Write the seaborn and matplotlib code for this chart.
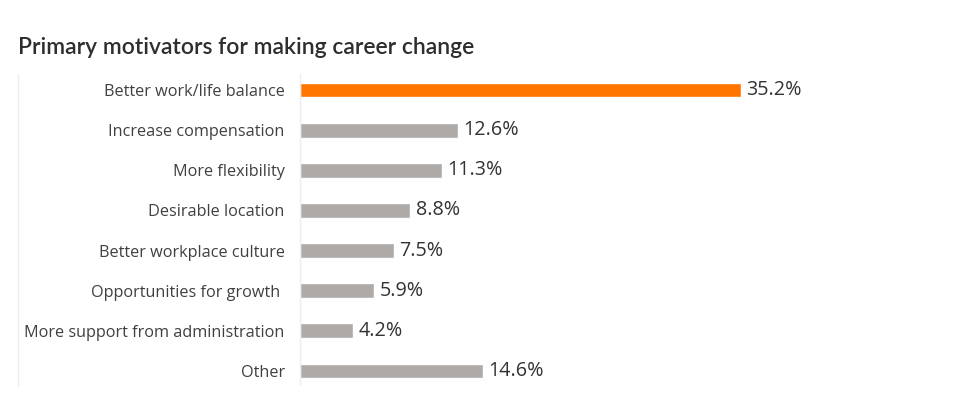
import matplotlib
matplotlib.use("Agg")
import matplotlib.pyplot as plt
from matplotlib.lines import Line2D
import pandas as pd
import seaborn as sns

TITLE = "Primary motivators for making career change"

CATEGORIES = [
    "Better work/life balance",
    "Increase compensation",
    "More flexibility",
    "Desirable location",
    "Better workplace culture",
    "Opportunities for growth ",
    "More support from administration",
    "Other",
]
PERCENTS = [35.2, 12.6, 11.3, 8.8, 7.5, 5.9, 4.2, 14.6]
HIGHLIGHT = "Better work/life balance"

ORANGE = "#FF7500"
GREY = "#AEAAA8"

sns.set_theme(style="white")
plt.rcParams["font.family"] = ["Open Sans", "DejaVu Sans"]

df = pd.DataFrame({"motivator": CATEGORIES, "percent": PERCENTS})
palette = {c: (ORANGE if c == HIGHLIGHT else GREY) for c in CATEGORIES}

fig = plt.figure(figsize=(9.7, 3.99), dpi=100)
ax = fig.add_axes([300 / 970, 1 - 391 / 399, 640 / 970, 321 / 399])

sns.barplot(
    data=df,
    x="percent",
    y="motivator",
    hue="motivator",
    palette=palette,
    order=CATEGORIES,
    width=0.37,
    legend=False,
    saturation=1,
    ax=ax,
)

ax.set_xlim(0, 640 / 12.53)
ax.set_xlabel("")
ax.set_ylabel("")
ax.set_xticks([])
ax.tick_params(axis="y", length=0, pad=11, labelsize=11.7, labelcolor="#404040")
for side in ["top", "right", "bottom"]:
    ax.spines[side].set_visible(False)
ax.spines["left"].set_color("#EDEDED")
ax.spines["left"].set_linewidth(1.0)
ax.spines["left"].set_bounds(-0.4, 7.35)

for container in ax.containers:
    ax.bar_label(
        container,
        labels=[f"{v:.1f}%" for v in container.datavalues],
        padding=4,
        fontsize=14.2,
        color="#333333",
    )

# thin frame line on the far left
fig.add_artist(
    Line2D([18 / 970, 18 / 970], [1 - 74 / 399, 1 - 386 / 399],
           color="#EDEDED", linewidth=1.0)
)

fig.text(18 / 970, 1 - 47 / 399, TITLE, fontsize=16.5, color="#2E2E2E",
         va="center", ha="left", family=["Lato", "DejaVu Sans"],
         fontweight="semibold")

fig.savefig("out.png", dpi=100)
